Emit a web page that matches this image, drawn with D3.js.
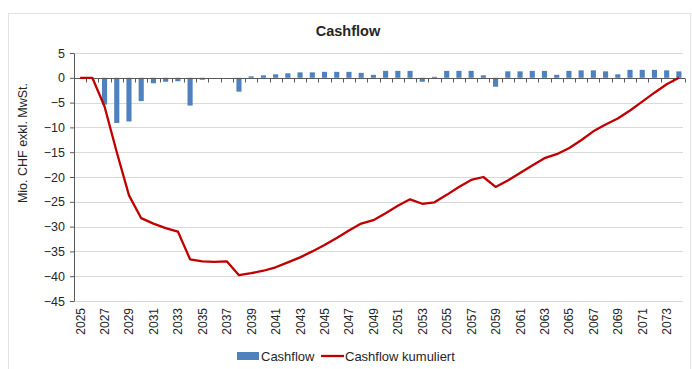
<!DOCTYPE html>
<html lang="en">
  <head>
    <meta charset="utf-8" />
    <title>Cashflow</title>
    <script src="https://d3js.org/d3.v7.min.js"></script>
    <style>
      body {
        margin: 0;
        background: white;
      }
      text {
        font-family: "Liberation Sans", Arial, sans-serif;
        fill: #262626;
      }
    </style>
  </head>
  <body>
    <svg width="692" height="369"></svg>
    <script type="text/javascript">
      // years 2025..2074
      const years = [
        2025, 2026, 2027, 2028, 2029, 2030, 2031, 2032, 2033, 2034, 2035, 2036,
        2037, 2038, 2039, 2040, 2041, 2042, 2043, 2044, 2045, 2046, 2047, 2048,
        2049, 2050, 2051, 2052, 2053, 2054, 2055, 2056, 2057, 2058, 2059, 2060,
        2061, 2062, 2063, 2064, 2065, 2066, 2067, 2068, 2069, 2070, 2071, 2072,
        2073, 2074,
      ];
      const cashflow = [
        0, 0, -5.4, -9.1, -8.8, -4.7, -1.1, -0.8, -0.7, -5.6, -0.4, 0, 0, -2.8,
        0.3, 0.5, 0.7, 0.9, 1.1, 1.1, 1.2, 1.2, 1.2, 1.0, 0.6, 1.4, 1.4, 1.4,
        -0.8, 0.2, 1.4, 1.4, 1.4, 0.5, -1.8, 1.3, 1.3, 1.4, 1.4, 0.6, 1.4, 1.5,
        1.5, 1.3, 0.7, 1.6, 1.6, 1.6, 1.5, 1.3,
      ];
      const cashflowKum = [
        0, 0, -5.8, -15.0, -23.7, -28.3, -29.4, -30.3, -31.0, -36.6, -37.0,
        -37.1, -37.0, -39.8, -39.4, -38.9, -38.2, -37.2, -36.2, -35.0, -33.7,
        -32.3, -30.8, -29.4, -28.7, -27.3, -25.8, -24.5, -25.4, -25.1, -23.6,
        -22.0, -20.6, -20.0, -22.0, -20.7, -19.2, -17.7, -16.2, -15.4, -14.2,
        -12.6, -10.8, -9.4, -8.2, -6.6, -4.8, -3.0, -1.3, 0,
      ];
      const yTicks = [5, 0, -5, -10, -15, -20, -25, -30, -35, -40, -45];
      const seriesNames = ["Cashflow", "Cashflow kumuliert"];

      const svg = d3.select("svg");
      const margin = { top: 53, right: 7, bottom: 68, left: 74 };

      // chart frame
      svg
        .append("rect")
        .attr("x", 8.5)
        .attr("y", 13.5)
        .attr("width", 682)
        .attr("height", 360)
        .attr("fill", "none")
        .attr("stroke", "#e3e3e3");

      const g = svg
        .append("g")
        .attr("transform", `translate(${margin.left},${margin.top})`);

      const x = d3
        .scaleBand()
        .domain(years)
        .range([0, 611])
        .paddingInner(0.58)
        .paddingOuter(0.29);

      const y = d3.scaleLinear().domain([-45, 5]).range([248, 0]);

      // gridlines
      g.append("g")
        .selectAll("line")
        .data(yTicks)
        .join("line")
        .attr("x1", 0)
        .attr("x2", 609)
        .attr("y1", (d) => Math.round(y(d)) + 0.5)
        .attr("y2", (d) => Math.round(y(d)) + 0.5)
        .attr("stroke", "#d9d9d9");

      // bars
      g.append("g")
        .selectAll("rect")
        .data(years)
        .join("rect")
        .attr("x", (d) => x(d))
        .attr("width", x.bandwidth())
        .attr("y", (d, i) => y(Math.max(0, cashflow[i])))
        .attr("height", (d, i) => Math.abs(y(cashflow[i]) - y(0)))
        .attr("fill", "#4f81bd");

      // category axis at zero
      const y0 = Math.round(y(0)) + 0.5;
      g.append("line")
        .attr("x1", 0)
        .attr("x2", 611)
        .attr("y1", y0)
        .attr("y2", y0)
        .attr("stroke", "#595959");
      g.append("g")
        .selectAll("line")
        .data(years.concat([null]))
        .join("line")
        .attr("x1", (d, i) => Math.round(i * x.step()) + 0.5)
        .attr("x2", (d, i) => Math.round(i * x.step()) + 0.5)
        .attr("y1", y0)
        .attr("y2", y0 + 4)
        .attr("stroke", "#595959");

      // x labels, every second year
      g.append("g")
        .selectAll("text")
        .data(years.filter((d, i) => i % 2 == 0))
        .join("text")
        .attr(
          "transform",
          (d) => `translate(${x(d) + x.bandwidth() / 2 + 4.5},${255}) rotate(-90)`
        )
        .attr("text-anchor", "end")
        .attr("font-size", "12px")
        .text((d) => d);

      // y axis
      const yAxis = g
        .append("g")
        .call(d3.axisLeft(y).tickValues(yTicks).tickSize(4).tickSizeOuter(0));
      yAxis.select(".domain").attr("stroke", "#595959");
      yAxis.selectAll(".tick line").attr("stroke", "#595959");
      yAxis
        .selectAll(".tick text")
        .attr("font-size", "12.5px")
        .attr("font-family", "Liberation Sans, Arial, sans-serif")
        .attr("fill", "#262626")
        .attr("x", -9);

      // cumulative line
      const line = d3
        .line()
        .x((d, i) => x(years[i]) + x.bandwidth() / 2)
        .y((d) => y(d));
      g.append("path")
        .datum(cashflowKum)
        .attr("d", line)
        .attr("fill", "none")
        .attr("stroke", "#c00000")
        .attr("stroke-width", 2.3)
        .attr("stroke-linejoin", "round");

      // title
      svg
        .append("text")
        .attr("x", 348)
        .attr("y", 36)
        .attr("text-anchor", "middle")
        .attr("font-size", "14.5px")
        .attr("font-weight", "bold")
        .text("Cashflow");

      // y axis title
      svg
        .append("text")
        .attr("transform", "translate(27,143) rotate(-90)")
        .attr("text-anchor", "middle")
        .attr("font-size", "12.5px")
        .text("Mio. CHF exkl. MwSt.");

      // legend
      const legend = svg.append("g").attr("transform", "translate(0,356)");
      legend
        .append("rect")
        .attr("x", 237)
        .attr("y", -4)
        .attr("width", 22)
        .attr("height", 8)
        .attr("fill", "#4f81bd");
      legend
        .append("text")
        .attr("x", 261)
        .attr("y", 4.5)
        .attr("font-size", "13px")
        .text(seriesNames[0]);
      legend
        .append("line")
        .attr("x1", 321)
        .attr("x2", 344)
        .attr("y1", 0)
        .attr("y2", 0)
        .attr("stroke", "#c00000")
        .attr("stroke-width", 2.3);
      legend
        .append("text")
        .attr("x", 345)
        .attr("y", 4.5)
        .attr("font-size", "13px")
        .text(seriesNames[1]);
    </script>
  </body>
</html>
